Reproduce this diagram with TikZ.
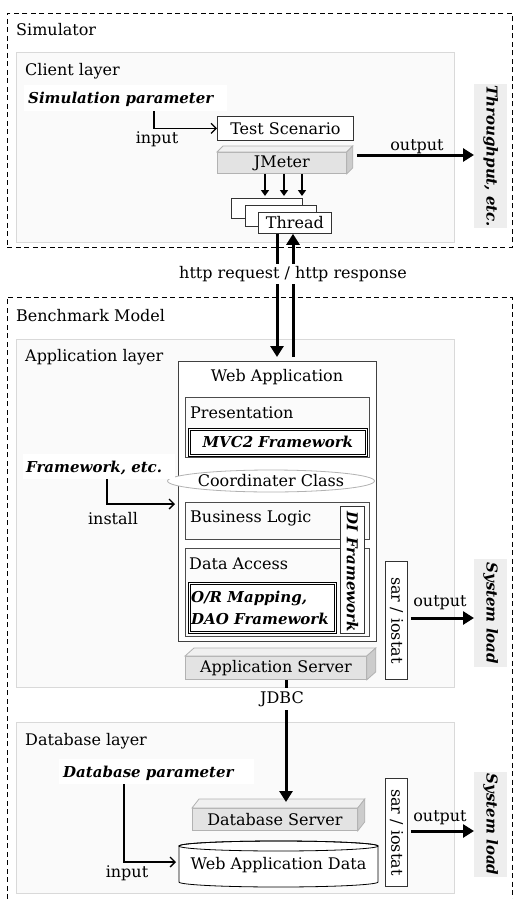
\documentclass[tikz,border=0pt]{standalone}
\usepackage{fontspec}
\setmainfont{DejaVu Serif}
\usetikzlibrary{arrows.meta,shapes.geometric}
\begin{document}
\begin{tikzpicture}[x=1pt,y=-1pt,
  font=\fontsize{16}{19}\selectfont,
  dashbox/.style={draw, line width=0.9pt, dash pattern=on 5pt off 3.5pt},
  layerbox/.style={draw=gray!30, fill=gray!4, line width=0.9pt, anchor=north west, inner sep=0pt},
  whitebox/.style={fill=white, anchor=north west, inner sep=0pt},
  plainbox/.style={draw=black!80, fill=white, line width=0.8pt, anchor=north west, inner sep=0pt},
  subbox/.style={draw=gray!60!black, fill=gray!3, line width=0.8pt, anchor=north west, inner sep=0pt},
  dblbox/.style={draw=black, double=white, double distance=0.9pt, line width=0.7pt, fill=white, anchor=north west, inner sep=0pt},
  resultbox/.style={fill=gray!13, anchor=north west, inner sep=0pt},
  front/.style={draw=gray!60, fill=gray!22, line width=0.8pt, anchor=north west, inner sep=0pt},
  topface/.style={draw=gray!60, fill=gray!12, line width=0.8pt},
  sideface/.style={draw=gray!60, fill=gray!40, line width=0.8pt},
  bi/.style={font=\fontsize{15}{18}\selectfont\bfseries\itshape},
  lbl/.style={anchor=west, inner sep=0pt},
  thinarrow/.style={line width=1.3pt, -{Straight Barb[length=5pt,width=10pt,line width=1.3pt]}},
  midarrow/.style={line width=1.5pt, -{Triangle[length=6pt,width=8pt]}},
  bigarrow/.style={line width=3pt, -{Triangle[length=11pt,width=13pt]}}
]
\useasboundingbox (0,0) rectangle (515,899);

% ---------------- Simulator ----------------
\node[dashbox, anchor=north west, minimum width=505pt, minimum height=234pt, inner sep=0pt] (sim) at (7,13) {};
\node[lbl] (simlbl) at (16,30) {Simulator};

\node[layerbox, minimum width=438pt, minimum height=190pt] (client) at (16,52) {};
\node[lbl] (clientlbl) at (25,71) {Client layer};

\node[whitebox, minimum width=203pt, minimum height=26pt] (simpar) at (24,85) {};
\node[lbl, bi] (simpartxt) at (28,99) {Simulation parameter};

\node[plainbox, minimum width=136pt, minimum height=24pt] (ts) at (217,116) {Test Scenario};

\coordinate (inx) at (154,0);
\draw[thinarrow] (simpar.south -| inx) |- (ts.west);
\node (inputlbl) at (157,139) {input};

% JMeter 3D box
\node[front, minimum width=129pt, minimum height=21pt] (jm) at (217,152) {JMeter};
\draw[topface] (jm.north west) -- ++(6,-6) -- ([shift={(6,-6)}]jm.north east) -- (jm.north east) -- cycle;
\draw[sideface] (jm.north east) -- ([shift={(6,-6)}]jm.north east) -- ([shift={(6,-6)}]jm.south east) -- (jm.south east) -- cycle;

\node[resultbox, minimum width=33pt, minimum height=144pt] (thr) at (474,84) {};
\node[bi, rotate=-90] (thrtxt) at (thr.center) {Throughput, etc.};

\draw[bigarrow] ([xshift=10pt]jm.east |- 0,155) -- (thr.west |- 0,155);
\node (out1) at (417,147) {output};

% Threads
\node[plainbox, minimum width=71pt, minimum height=20pt] (t1) at (231,198) {};
\node[plainbox, minimum width=71pt, minimum height=21pt] (t2) at (245,205) {};
\node[plainbox, minimum width=73pt, minimum height=21pt] (t3) at (258,212) {Thread};

\coordinate (a1) at (265,0);
\coordinate (a2) at (284,0);
\coordinate (a3) at (302,0);
\draw[midarrow] (jm.south -| a1) -- ([yshift=2pt]t1.north -| a1);
\draw[midarrow] (jm.south -| a2) -- ([yshift=2pt]t1.north -| a2);
\draw[midarrow] (jm.south -| a3) -- ([yshift=2pt]t1.north -| a3);

% ---------------- Benchmark Model ----------------
\draw[dashbox] (7,899) -- (7,297) -- (512,297) -- (512,899);
\node[lbl] (bmlbl) at (16,316) {Benchmark Model};

\node[layerbox, minimum width=438pt, minimum height=348pt] (applayer) at (16,339) {};
\node[lbl] (applbl) at (25,357) {Application layer};

\node[plainbox, draw=gray!50!black, minimum width=198pt, minimum height=280pt] (webapp) at (178,361) {};
\node (webapptxt) at (277,377) {Web Application};

% http arrows
\coordinate (h1) at (277,0);
\coordinate (h2) at (293,0);
\draw[bigarrow] (t3.south -| h1) -- ([yshift=4pt]webapp.north -| h1);
\draw[bigarrow] ([yshift=4pt]webapp.north -| h2) -- (t3.south -| h2);
\node[fill=white, inner sep=2pt] (http) at (293,274) {http request / http response};

\node[subbox, minimum width=184pt, minimum height=60pt] (pres) at (185,397) {};
\node[lbl] (prestxt) at (190,413) {Presentation};
\node[dblbox, minimum width=177pt, minimum height=26pt] (mvc) at (189,429) {};
\node[bi] (mvctxt) at (mvc.center) {MVC2 Framework};

\node[ellipse, draw=gray!60, fill=white, line width=0.8pt, minimum width=167pt, minimum height=22pt, inner sep=0pt] (coordc) at (271,481) {Coordinater Class};

\node[whitebox, minimum width=152pt, minimum height=25pt] (fw) at (23,454) {};
\node[lbl, bi] (fwtxt) at (26,468) {Framework, etc.};
\coordinate (fx) at (107,0);
\coordinate (fy) at (0,504);
\draw[thinarrow] (fw.south -| fx) |- ([xshift=-3pt]webapp.west |- fy);
\node (installlbl) at (113,519) {install};

\node[subbox, minimum width=184pt, minimum height=37pt] (bl) at (185,502) {};
\node[lbl] (bltxt) at (190,518) {Business Logic};

\node[subbox, minimum width=184pt, minimum height=88pt] (da) at (185,548) {};
\node[lbl] (datxt) at (189,564) {Data Access};
\node[dblbox, minimum width=146pt, minimum height=49pt] (orm) at (189,583) {};
\node[bi, align=left, anchor=west, inner sep=0pt, font=\fontsize{15}{22}\selectfont\bfseries\itshape] (ormtxt) at (191,608) {O/R Mapping,\\DAO Framework};

\node[plainbox, minimum width=24pt, minimum height=127pt] (di) at (340,506) {};
\node[bi, rotate=-90] (ditxt) at ([yshift=-2pt]di.center) {DI Framework};

% Application Server 3D
\node[front, minimum width=181pt, minimum height=23pt] (as) at (185,656) {Application Server};
\draw[topface] (as.north west) -- ++(9,-8) -- ([shift={(9,-8)}]as.north east) -- (as.north east) -- cycle;
\draw[sideface] (as.north east) -- ([shift={(9,-8)}]as.north east) -- ([shift={(9,-8)}]as.south east) -- (as.south east) -- cycle;

\node[plainbox, minimum width=22pt, minimum height=118pt] (sar1) at (385,561) {};
\node[rotate=-90] (sar1txt) at (sar1.center) {sar / iostat};

\node[resultbox, minimum width=33pt, minimum height=108pt] (sl1) at (474,559) {};
\node[bi, rotate=-90] (sl1txt) at (sl1.center) {System load};

\draw[bigarrow] ([xshift=3pt]sar1.east |- 0,618) -- (sl1.west |- 0,618);
\node (out2) at (440,603) {output};

% ---------------- Database layer ----------------
\node[layerbox, minimum width=438pt, minimum height=171pt] (dblayer) at (16,722) {};
\node[lbl] (dblbl) at (25,741) {Database layer};

\node[whitebox, minimum width=195pt, minimum height=25pt] (dbpar) at (59,759) {};
\node[lbl, bi] (dbpartxt) at (63,773) {Database parameter};

% Database Server 3D
\node[front, minimum width=165pt, minimum height=22pt] (dbs) at (192,808) {Database Server};
\draw[topface] (dbs.north west) -- ++(7,-9) -- ([shift={(7,-9)}]dbs.north east) -- (dbs.north east) -- cycle;
\draw[sideface] (dbs.north east) -- ([shift={(7,-9)}]dbs.north east) -- ([shift={(7,-9)}]dbs.south east) -- (dbs.south east) -- cycle;

% JDBC
\coordinate (jx) at (286,0);
\draw[bigarrow] (as.south -| jx) -- ([yshift=6pt]dbs.north -| jx);
\node[fill=white, inner sep=3pt] (jdbc) at (282,699) {JDBC};

% Web Application Data cylinder
\node[anchor=north west, minimum width=199pt, minimum height=46pt, inner sep=0pt] (wad) at (179,841) {};
\draw[line width=0.8pt, fill=white] (179,846) -- (179,882) arc[start angle=180, end angle=360, x radius=99.5pt, y radius=5pt] -- (378,846) arc[start angle=0, end angle=180, x radius=99.5pt, y radius=5pt] -- cycle;
\draw[line width=0.8pt] (278.5,846) ellipse [x radius=99.5pt, y radius=5pt];
\node (wadtxt) at (278.5,865) {Web Application Data};

\coordinate (dx) at (124,0);
\coordinate (dy) at (0,862);
\draw[thinarrow] (dbpar.south -| dx) |- ([xshift=-3pt]wad.west |- dy);
\node (input2lbl) at (127,873) {input};

\node[plainbox, minimum width=22pt, minimum height=108pt] (sar2) at (385,778) {};
\node[rotate=-90] (sar2txt) at (sar2.center) {sar / iostat};

\node[resultbox, minimum width=33pt, minimum height=105pt] (sl2) at (474,772) {};
\node[bi, rotate=-90] (sl2txt) at (sl2.center) {System load};

\draw[bigarrow] ([xshift=3pt]sar2.east |- 0,831) -- (sl2.west |- 0,831);
\node (out3) at (440,818) {output};

\end{tikzpicture}
\end{document}
